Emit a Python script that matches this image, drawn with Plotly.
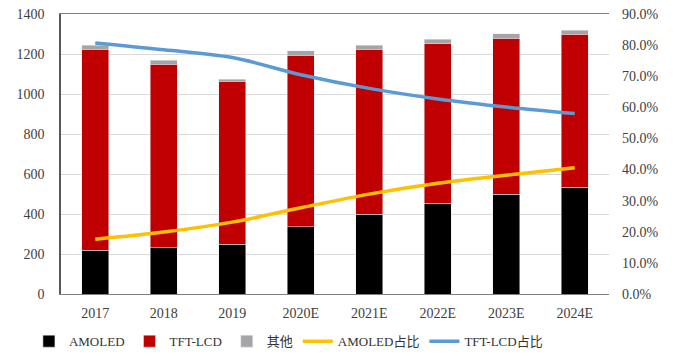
import plotly.graph_objects as go

years = ["2017", "2018", "2019", "2020E", "2021E", "2022E", "2023E", "2024E"]
amoled = [220, 232, 248, 337, 400, 453, 498, 533]
tft_lcd = [1003, 918, 817, 858, 823, 799, 782, 767]
others = [22, 20, 10, 22, 22, 21, 22, 18]
amoled_share = [17.6, 19.9, 23.1, 27.7, 32.1, 35.6, 38.2, 40.6]
tft_share = [80.7, 78.5, 76.0, 70.5, 66.1, 62.7, 60.1, 58.0]

left_ticks = list(range(0, 1401, 200))
right_ticks = [i * 10 for i in range(10)]
right_labels = [f"{v:.1f}%" for v in right_ticks]

font_family = "Liberation Serif, Times New Roman, Noto Sans CJK SC, serif"

fig = go.Figure()
fig.add_trace(go.Bar(x=years, y=amoled, name="AMOLED", marker_color="#000000"))
fig.add_trace(go.Bar(x=years, y=tft_lcd, name="TFT-LCD", marker_color="#C00000"))
fig.add_trace(go.Bar(x=years, y=others, name="其他", marker_color="#A5A5A5"))
fig.add_trace(go.Scatter(x=years, y=amoled_share, name="AMOLED占比", yaxis="y2",
                         mode="lines", line=dict(color="#FFC000", width=3.5, shape="spline")))
fig.add_trace(go.Scatter(x=years, y=tft_share, name="TFT-LCD占比", yaxis="y2",
                         mode="lines", line=dict(color="#5B9BD5", width=3.5, shape="spline")))

fig.update_layout(
    width=682, height=356,
    margin=dict(l=61, r=73, t=14, b=62, autoexpand=False),
    barmode="stack",
    bargap=0.6,
    plot_bgcolor="white",
    paper_bgcolor="white",
    font=dict(family=font_family, size=14, color="#404040"),
    xaxis=dict(showline=True, linecolor="#808080", linewidth=1, mirror=True,
               ticks="", tickfont=dict(size=14), ticklabelstandoff=6),
    yaxis=dict(range=[0, 1400], tickvals=left_ticks, showgrid=True,
               gridcolor="#d9d9d9", showline=True, linecolor="#595959",
               linewidth=1.5, ticks="", zeroline=False, tickfont=dict(size=14),
               ticklabelstandoff=12),
    yaxis2=dict(range=[0, 90], tickvals=right_ticks, ticktext=right_labels,
                overlaying="y", side="right", showgrid=False, ticks="",
                zeroline=False, showline=False, tickfont=dict(size=14),
                ticklabelstandoff=12),
    legend=dict(orientation="h", x=0.415, xanchor="center", y=-0.115, yanchor="top",
                font=dict(size=13, color="#333333"), traceorder="normal",
                itemwidth=30, tracegroupgap=0),
    showlegend=True,
)

fig.write_html("out.html")
